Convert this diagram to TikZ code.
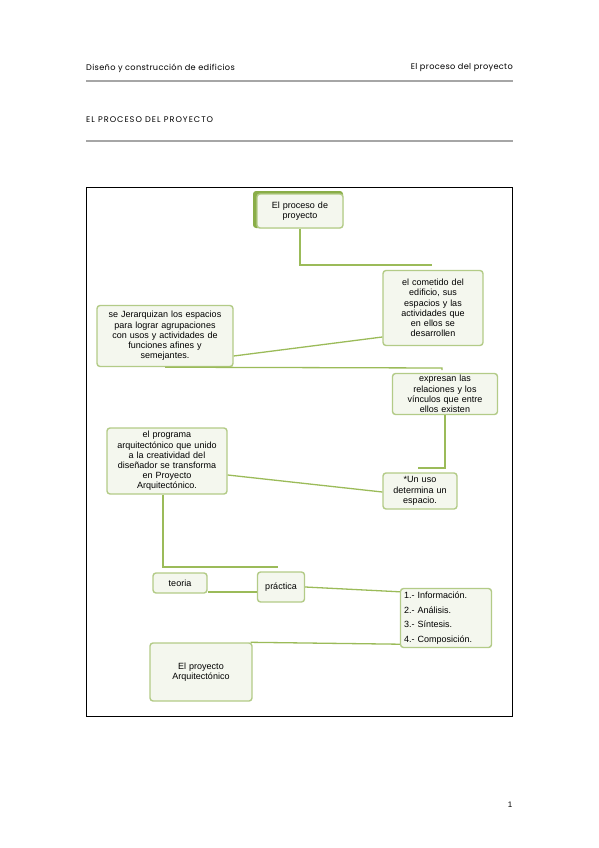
\documentclass[tikz,border=0pt]{standalone}
\usepackage{fontspec}
\setmainfont{Liberation Sans}
\newfontfamily\hdr[LetterSpace=4]{Poppins}
\newfontfamily\hdrt[LetterSpace=12]{Poppins}
\definecolor{lineg}{HTML}{9BBB59}
\definecolor{boxd}{HTML}{B3CB87}
\definecolor{boxf}{HTML}{F4F7EE}
\definecolor{boxdark}{HTML}{8AAE48}
\definecolor{rule}{HTML}{A6A6A6}
\tikzset{
  cbox/.style={draw=boxd, fill=boxf, line width=1.4pt, rounded corners=3pt, align=center,
    font=\fontsize{9}{10.2}\selectfont, inner sep=1pt},
  conn/.style={draw=lineg, line width=1.3pt},
  hdrtext/.style={font=\hdr\fontsize{8.2}{9}\selectfont, inner sep=0pt, text=black},
  hrule/.style={draw=rule, line width=2.8pt}
}
\begin{document}
\begin{tikzpicture}[x=1pt,y=-1pt]
\useasboundingbox (0,0) rectangle (599,848);
% header
\node[hdrtext, anchor=west] (h1) at (86,68) {Diseño y construcción de edificios};
\node[hdrtext, anchor=east] (h2) at (513,68) {El proceso del proyecto};
\coordinate (r1a) at (86,81); \coordinate (r1b) at (513,81);
\draw[hrule] (r1a) -- (r1b);
\node[hdrtext, font=\hdrt\fontsize{8.2}{9}\selectfont, anchor=west] (title) at (86,120) {EL PROCESO DEL PROYECTO};
\coordinate (r2a) at (86,141); \coordinate (r2b) at (513,141);
\draw[hrule] (r2a) -- (r2b);
% frame
\draw[black, line width=0.8pt] (86,187) rectangle (512,716);
% page number
\node[font=\fontsize{8}{9}\selectfont, inner sep=0pt] (pn) at (510,805) {1};
% box 1 shadow
\fill[boxdark, rounded corners=3pt] (253,191) rectangle (343,228);
\node[cbox, minimum width=86, minimum height=34, anchor=center, text width=80] (b1) at (300,211) {El proceso de\\proyecto};
\node[cbox, minimum width=100, minimum height=75, text width=94] (b2) at (433,308) {el cometido del\\edificio, sus\\espacios y las\\actividades que\\en ellos se\\desarrollen};
\node[cbox, minimum width=136, minimum height=61, text width=132] (b3) at (165,336) {se Jerarquizan los espacios\\para lograr agrupaciones\\con usos y actividades de\\funciones afines y\\semejantes.};
\node[cbox, minimum width=105, minimum height=41, text width=100] (b4) at (445,394) {expresan las\\relaciones y los\\vínculos que entre\\ellos existen};
\node[cbox, minimum width=74, minimum height=36, text width=70] (b5) at (420,491) {*Un uso\\determina un\\espacio.};
\node[cbox, minimum width=120, minimum height=66, text width=116] (b6) at (167,461) {el programa\\arquitectónico que unido\\a la creatividad del\\diseñador se transforma\\en Proyecto\\Arquitectónico.};
\node[cbox, minimum width=54, minimum height=20, text width=50] (teo) at (180,583) {teoria};
\node[cbox, minimum width=47, minimum height=30, text width=44] (pra) at (281,587) {práctica};
\node[cbox, minimum width=91, minimum height=59, text width=84, align=left, font=\fontsize{9}{14.5}\selectfont] (lst) at (446,618) {1.- Información.\\2.- Análisis.\\3.- Síntesis.\\4.- Composición.};
\node[cbox, minimum width=102, minimum height=58, text width=96] (pro) at (201,672) {El proyecto\\Arquitectónico};
% connectors
\coordinate (e1) at (432,265);
\draw[conn] (b1.south) |- (e1);
\draw[conn] ([yshift=-20pt]b3.east) -- ([yshift=-29pt]b2.west);
\coordinate (e3) at (442,368);
\draw[conn] (b3.south) -- (e3) -- ([yshift=-2pt]e3);
\coordinate (e4) at (418,468);
\draw[conn] (b4.south) |- (e4);
\draw[conn] ([yshift=-14pt]b6.east) -- ([yshift=-1pt]b5.west);
\coordinate (e6) at (278,567);
\draw[conn] ([xshift=-4pt]b6.south) |- (e6);
\draw[conn] ([yshift=-9pt]teo.east) -- ([yshift=-5pt]pra.west);
\draw[conn] (pra.east) -- ([yshift=-4pt]lst.north west);
\draw[conn] ([yshift=4pt]lst.south west) -- ([xshift=-2pt]pro.north east);
\end{tikzpicture}
\end{document}
